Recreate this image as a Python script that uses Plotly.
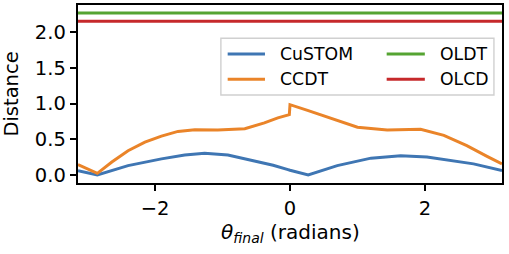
import math
import plotly.graph_objects as go

# ---- data ----
x_custom = [-math.pi, -2.855, -2.40, -1.905, -1.56, -1.265, -0.92, -0.575, -0.25, -0.03, 0.0,
            0.27, 0.70, 1.2, 1.64, 2.03, 2.43, 2.72, math.pi]
custom = [0.06, 0.0, 0.13, 0.225, 0.28, 0.305, 0.28, 0.21, 0.135, 0.075, 0.065,
          0.0, 0.13, 0.235, 0.27, 0.25, 0.20, 0.155, 0.06]

x_ccdt = [-math.pi, -2.855, -2.64, -2.40, -2.15, -1.905, -1.66, -1.41, -1.07, -0.67,
          -0.38, -0.18, -0.01, 0.0, 0.26, 0.61, 1.0, 1.44, 1.935, 2.28, 2.62, 2.92, math.pi]
ccdt = [0.145, 0.022, 0.18, 0.34, 0.46, 0.545, 0.61, 0.633, 0.63, 0.647,
        0.73, 0.80, 0.845, 0.985, 0.905, 0.79, 0.67, 0.63, 0.64, 0.555, 0.41, 0.26, 0.155]

x_const = [-math.pi, math.pi]
oldt = [2.27, 2.27]
olcd = [2.155, 2.155]

x_ticks = [-2, 0, 2]
y_ticks = [0.0, 0.5, 1.0, 1.5, 2.0]

names = ["CuSTOM", "CCDT", "OLDT", "OLCD"]
colors = ["#3f76b3", "#ea8429", "#55a432", "#c6292b"]

FONT = "DejaVu Sans"

fig = go.Figure()
series = [(x_custom, custom), (x_ccdt, ccdt), (x_const, oldt), (x_const, olcd)]
for (xs, ys), n, c in zip(series, names, colors):
    fig.add_trace(go.Scatter(x=xs, y=ys, mode="lines", name=n,
                             line=dict(color=c, width=3), showlegend=False))

# ---- manual legend (2 columns, column-major like the reference) ----
fig.add_shape(type="rect", xref="paper", yref="paper",
              x0=0.337, x1=0.981, y0=0.494, y1=0.813,
              line=dict(color="#d0d0d0", width=1.4),
              fillcolor="rgba(255,255,255,0.8)", layer="above")
rows_y = [0.725, 0.583]
cols = [(0.353, 0.441, 0.472), (0.728, 0.818, 0.848)]
for i, (n, c) in enumerate(zip(names, colors)):
    col = cols[i // 2]
    yy = rows_y[i % 2]
    fig.add_shape(type="line", xref="paper", yref="paper",
                  x0=col[0], x1=col[1], y0=yy, y1=yy,
                  line=dict(color=c, width=3), layer="above")
    fig.add_annotation(x=col[2], y=yy, xref="paper", yref="paper",
                       text=n, showarrow=False, xanchor="left", yanchor="middle",
                       font=dict(family=FONT, size=17.3, color="black"))

# ---- axis titles as annotations ----
fig.add_annotation(x=0.5, y=-0.281, xref="paper", yref="paper", showarrow=False,
                   text="<i>θ</i><sub><i>final</i></sub> (radians)",
                   xanchor="center", yanchor="middle",
                   font=dict(family=FONT, size=20, color="black"))
fig.add_annotation(x=-0.159, y=0.5, xref="paper", yref="paper", showarrow=False,
                   text="Distance", textangle=-90,
                   xanchor="center", yanchor="middle",
                   font=dict(family=FONT, size=19.5, color="black"))

axis_common = dict(showline=True, linecolor="black", linewidth=1.5, mirror=True,
                   ticks="outside", ticklen=6.5, tickwidth=1.5, tickcolor="black",
                   showgrid=False, zeroline=False, automargin=False,
                   tickfont=dict(family=FONT, size=19.5, color="black"))

fig.update_layout(
    width=509, height=254,
    margin=dict(l=78, r=7, t=5, b=71),
    paper_bgcolor="white", plot_bgcolor="white",
    xaxis=dict(range=[-math.pi, math.pi], tickvals=x_ticks,
               ticktext=["\u22122", "0", "2"], **axis_common),
    yaxis=dict(range=[-0.1135, 2.3835], tickvals=y_ticks,
               ticktext=["0.0", "0.5", "1.0", "1.5", "2.0"], **axis_common),
)

fig.write_html("out.html", config={"displayModeBar": False},
               post_script="document.body.style.margin='0';document.body.style.overflow='hidden';")
